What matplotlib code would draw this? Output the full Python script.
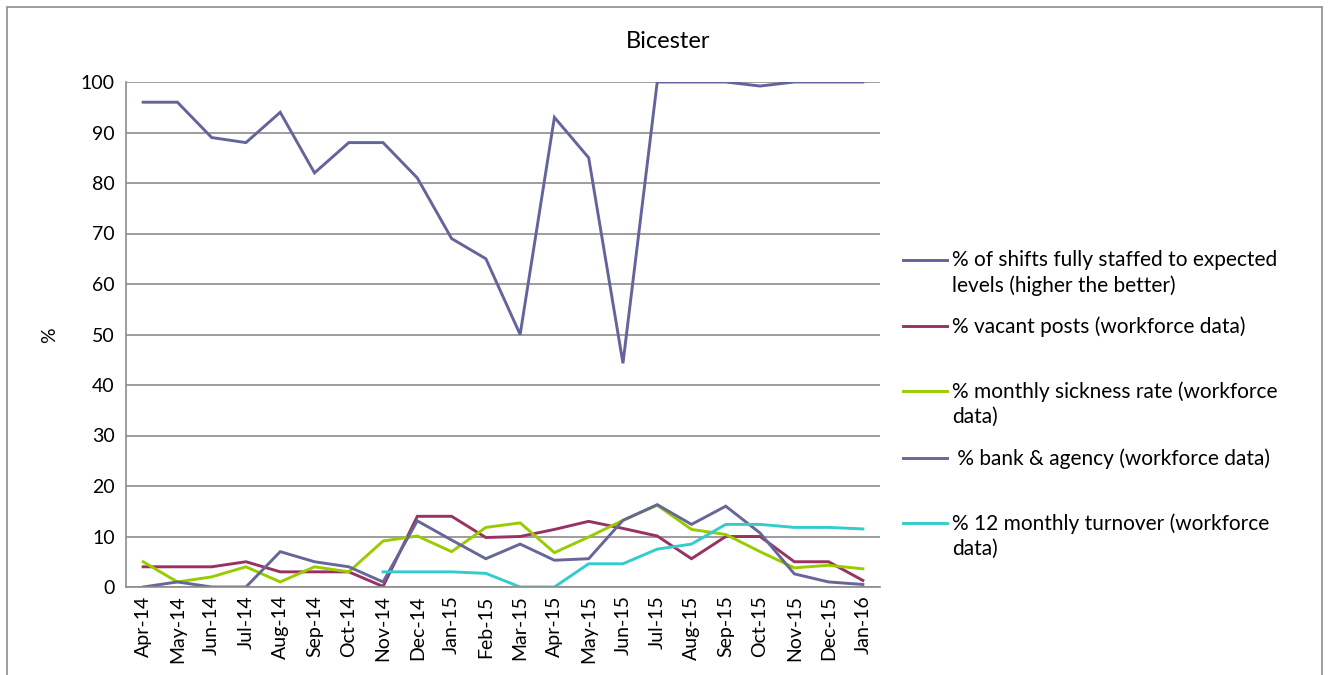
import matplotlib
matplotlib.use('Agg')
import matplotlib.pyplot as plt
from matplotlib.lines import Line2D
from matplotlib.patches import Rectangle

plt.rcParams['font.family'] = ['Lato', 'DejaVu Sans']

months = ['Apr-14', 'May-14', 'Jun-14', 'Jul-14', 'Aug-14', 'Sep-14', 'Oct-14', 'Nov-14',
          'Dec-14', 'Jan-15', 'Feb-15', 'Mar-15', 'Apr-15', 'May-15', 'Jun-15', 'Jul-15',
          'Aug-15', 'Sep-15', 'Oct-15', 'Nov-15', 'Dec-15', 'Jan-16']

shifts = [96, 96, 89, 88, 94, 82, 88, 88, 81, 69, 65, 50, 93, 85, 44.3, 100,
          100, 100, 99.2, 100, 100, 100]
vacant = [4, 4, 4, 5, 3, 3, 3, 0.1, 14, 14, 9.8, 10, 11.4, 13, 11.6, 10.1,
          5.6, 10, 10, 5, 5, 1.3]
sickness = [5, 1, 2, 4, 1, 4, 3, 9.1, 10.1, 7, 11.8, 12.7, 6.8, 9.9, 13.2, 16.2,
            11.4, 10.4, 7, 3.8, 4.3, 3.6]
bank = [0, 1, 0, 0, 7, 5, 4, 1, 13.1, 9.3, 5.6, 8.5, 5.3, 5.6, 13.2, 16.3,
        12.4, 16, 10.7, 2.6, 1, 0.5]
turnover = [None] * 7 + [3, 3, 3, 2.7, 0, 0, 4.6, 4.6, 7.5, 8.5, 12.4, 12.4, 11.8, 11.8, 11.5]

labels = ['% of shifts fully staffed to expected\nlevels (higher the better)',
          '% vacant posts (workforce data)',
          '% monthly sickness rate (workforce\ndata)',
          ' % bank & agency (workforce data)',
          '% 12 monthly turnover (workforce\ndata)']
colors = ['#64649C', '#983263', '#99CC00', '#666699', '#33CCCC']

W, H = 1329, 675
fig = plt.figure(figsize=(W / 100, H / 100), dpi=100)
ax = fig.add_axes([126 / W, 1 - 587 / H, (880 - 126) / W, (587 - 82) / H])

x = list(range(len(months)))
series = [shifts, vacant, sickness, bank, turnover]
for s, c in zip(series, colors):
    xs = [i for i, v in zip(x, s) if v is not None]
    ys = [v for v in s if v is not None]
    ax.plot(xs, ys, color=c, lw=2.1, solid_joinstyle='miter')

ax.set_xlim(-0.5, len(months) - 0.5)
ax.set_ylim(0, 100)
ax.set_yticks(range(0, 101, 10))
ax.set_xticks(x)
ax.set_xticklabels(months, rotation=90, fontsize=14)
ax.tick_params(axis='y', labelsize=14, length=0, pad=8)
ax.tick_params(axis='x', length=0, pad=6)
ax.grid(axis='y', color='#8C8C8C', lw=1.2)
ax.set_axisbelow(True)
for side in ['top', 'right']:
    ax.spines[side].set_visible(False)
for side in ['left', 'bottom']:
    ax.spines[side].set_color('#8C8C8C')
    ax.spines[side].set_linewidth(1.2)

fig.text(668 / W, 1 - 41 / H, 'Bicester', ha='center', va='center', fontsize=17)
fig.text(50 / W, 1 - 335 / H, '%', ha='center', va='center', rotation=90, fontsize=14)

# legend drawn by hand to keep Excel's even spacing
leg_y = [260, 326, 391, 458, 523]
for yy, lab, c in zip(leg_y, labels, colors):
    fig.add_artist(Line2D([903 / W, 947 / W], [1 - yy / H, 1 - yy / H], color=c, lw=2.1))
    fig.text(952 / W, 1 - (yy - 10) / H, lab, ha='left', va='top', fontsize=15,
             linespacing=1.3)

fig.add_artist(Rectangle((7 / W, -0.1), (W - 14) / W, 1 - 7 / H + 0.1, transform=fig.transFigure,
                         fill=False, edgecolor='#8C8C8C', lw=1.2))

fig.savefig('out.png', dpi=100)
